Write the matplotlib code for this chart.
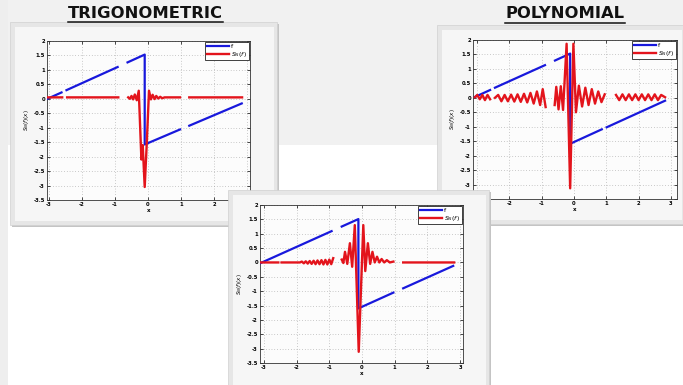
import numpy as np
import matplotlib
matplotlib.use("Agg")
import matplotlib.pyplot as plt
from matplotlib.patches import Rectangle
from matplotlib.lines import Line2D

nan = np.nan

# ---------------- data ----------------
yticks = [2, 1.5, 1, 0.5, 0, -0.5, -1, -1.5, -2, -2.5, -3, -3.5]
ytick_labels = ["2", "1.5", "1", "0.5", "0", "-0.5", "-1", "-1.5", "-2", "-2.5", "-3", "-3.5"]
xticks = [-3, -2, -1, 0, 1, 2, 3]
xtick_labels = ["-3", "-2", "-1", "0", "1", "2", "3"]

# Trigonometric panel
trig_f_x = [-3.05, -2.62, nan, -2.47, -0.92, nan, -0.62, -0.10, -0.10, 0.97, nan, 1.25, 2.84]
trig_f_y = [0.00, 0.22, nan, 0.30, 1.10, nan, 1.26, 1.53, -1.58, -1.06, nan, -0.93, -0.16]
trig_s_x = [-3.05, -2.60, nan, -2.45, -0.90, nan,
            -0.60, -0.55, -0.50, -0.45, -0.40, -0.34, -0.28, -0.20, -0.16, -0.10, -0.04,
            0.03, 0.09, 0.14, 0.20, 0.25, 0.31, 0.37, 0.43, 0.50, 0.97, nan, 1.25, 2.85]
trig_s_y = [0.05, 0.05, nan, 0.05, 0.05, nan,
            0.05, 0.00, 0.10, -0.02, 0.15, -0.05, 0.28, -2.10, -1.60, -3.05, -1.60,
            0.28, -0.02, 0.14, -0.01, 0.10, 0.01, 0.07, 0.02, 0.05, 0.05, nan, 0.05, 0.05]

# Polynomial panel
poly_f_x = [-3.07, -2.60, nan, -2.45, -0.90, nan, -0.59, -0.12, -0.12, 0.86, nan, 1.01, 2.82]
poly_f_y = [0.03, 0.27, nan, 0.35, 1.13, nan, 1.29, 1.53, -1.59, -1.09, nan, -1.02, -0.10]
poly_s_x = [-3.07, -3.00, -2.92, -2.84, -2.76, -2.68, -2.60, nan,
            -2.45, -2.35, -2.25, -2.15, -2.05, -1.95, -1.85, -1.75, -1.65, -1.55,
            -1.45, -1.35, -1.25, -1.15, -1.05, -0.97, -0.88, nan,
            -0.60, -0.55, -0.48, -0.41, -0.34, -0.23, -0.12, -0.02, 0.06, 0.15,
            0.25, 0.35, 0.45, 0.55, 0.65, 0.75, 0.85, 0.95, nan,
            1.30, 1.40, 1.50, 1.60, 1.70, 1.80, 1.90, 2.00, 2.10, 2.20, 2.30,
            2.40, 2.50, 2.60, 2.70, 2.82]
poly_s_y = [0.02, 0.10, -0.05, 0.10, -0.08, 0.10, -0.05, nan,
            0.00, 0.10, -0.12, 0.10, -0.12, 0.11, -0.13, 0.12, -0.14, 0.14,
            -0.16, 0.17, -0.20, 0.22, -0.25, 0.30, -0.32, nan,
            -0.25, 0.38, -0.40, 0.40, -0.42, 1.87, -3.13, 1.87, -0.50, 0.42,
            -0.30, 0.35, -0.25, 0.30, -0.20, 0.22, -0.15, 0.12, nan,
            0.10, -0.08, 0.12, -0.08, 0.12, -0.08, 0.12, -0.08, 0.12, -0.08, 0.12,
            -0.08, 0.12, -0.08, 0.10, 0.02]

# Third panel
mid_f_x = [-3.12, -0.93, nan, -0.62, -0.11, -0.11, 0.96, nan, 1.26, 2.79]
mid_f_y = [-0.03, 1.09, nan, 1.25, 1.51, -1.60, -1.05, nan, -0.90, -0.12]
mid_s_x = [-3.12, -2.56, nan,
           -2.46, -1.90, -1.84, -1.78, -1.72, -1.66, -1.60, -1.54, -1.48, -1.42, -1.36,
           -1.30, -1.24, -1.18, -1.12, -1.06, -1.00, -0.94, -0.88, nan,
           -0.62, -0.57, -0.52, -0.45, -0.37, -0.30, -0.22, -0.10, 0.04, 0.10, 0.18,
           0.25, 0.32, 0.39, 0.46, 0.53, 0.60, 0.68, 0.76, 0.85, 0.96, nan,
           1.26, 2.82]
mid_s_y = [0.00, 0.00, nan,
           0.00, 0.00, 0.03, -0.03, 0.04, -0.04, 0.05, -0.05, 0.06, -0.06, 0.07,
           -0.06, 0.08, -0.07, 0.09, -0.07, 0.10, -0.06, 0.15, nan,
           0.10, -0.02, 0.37, -0.05, 0.67, -0.15, 1.30, -3.11, 1.30, -0.30, 0.67,
           -0.05, 0.37, 0.00, 0.20, 0.00, 0.12, 0.00, 0.08, 0.00, 0.03, nan,
           0.00, 0.00]

titles = ["TRIGONOMETRIC", "POLYNOMIAL"]
legend_labels = ["f", "$S_N(f)$"]
ylabel_text = "$S_N(f)(x)$"
xlabel_text = "x"

# ---------------- layout helpers ----------------
W, H = 683, 385
fig = plt.figure(figsize=(W / 100, H / 100), dpi=100)
fig.patch.set_facecolor("white")


def rect_px(x0, y0, x1, y1):
    return [x0 / W, 1 - y1 / H, (x1 - x0) / W, (y1 - y0) / H]


def add_rect(x0, y0, x1, y1, fc, z, ec="none", lw=0):
    r = rect_px(x0, y0, x1, y1)
    p = Rectangle((r[0], r[1]), r[2], r[3], transform=fig.transFigure,
                  facecolor=fc, edgecolor=ec, linewidth=lw, zorder=z)
    fig.patches.append(p)
    return p


# background band
add_rect(0, 0, W, 145, "#f1f1f1", 0.1)
add_rect(0, 0, 8, H, "#eeeeee", 0.1)


def frame(x0, y0, x1, y1, z):
    add_rect(x0 + 2, y0 + 2, x1 + 2, y1 + 2, "#c4c4c4", z)
    add_rect(x0, y0, x1, y1, "#e6e6e6", z + 0.01, ec="#d0d0d0", lw=0.5)
    add_rect(x0 + 5, y0 + 5, x1 - 3, y1 - 4, "#f6f6f6", z + 0.02)


def panel(box, xlim, fx, fy, sx, sy, z, label_pad=2):
    ax = fig.add_axes(rect_px(*box))
    ax.set_zorder(z)
    ax.set_facecolor("#fcfcfc")
    ax.set_xlim(*xlim)
    ax.set_ylim(-3.5, 2)
    ax.set_yticks(yticks)
    ax.set_yticklabels(ytick_labels)
    ax.set_xticks(xticks)
    ax.set_xticklabels(xtick_labels)
    ax.tick_params(direction="in", length=2, width=0.5, labelsize=3.8,
                   top=True, right=True, pad=1.5, colors="black")
    for lab in ax.get_xticklabels() + ax.get_yticklabels():
        lab.set_fontweight("bold")
    ax.grid(True, linestyle=(0, (1, 3)), color="#9a9a9a", linewidth=0.5)
    for s in ax.spines.values():
        s.set_linewidth(0.6)
        s.set_color("#333333")
    l1, = ax.plot(fx, fy, color="#1818dc", lw=1.6, label=legend_labels[0], zorder=3)
    l2, = ax.plot(sx, sy, color="#e3141c", lw=1.7, label=legend_labels[1], zorder=3)
    ax.set_ylabel(ylabel_text, fontsize=4, labelpad=label_pad, fontweight="bold")
    ax.set_xlabel(xlabel_text, fontsize=4, labelpad=1, fontweight="bold")
    leg = ax.legend(handles=[l1, l2], loc="upper right", fontsize=4.5,
                    frameon=True, fancybox=False, framealpha=1,
                    edgecolor="#222222", borderpad=0.25, handlelength=3.6,
                    handletextpad=0.3, labelspacing=0.1, borderaxespad=0.2)
    leg.get_frame().set_linewidth(0.6)
    for t in leg.get_texts():
        t.set_color("black")
    return ax


# panel 1 (trigonometric)
frame(10, 22, 277, 225, 1)
panel((47, 41, 250, 200), (-3.06, 3.09), trig_f_x, trig_f_y, trig_s_x, trig_s_y, 2)

# panel 2 (polynomial)
frame(437, 25, 685, 224, 3)
panel((473, 40, 677, 199), (-3.13, 3.19), poly_f_x, poly_f_y, poly_s_x, poly_s_y, 4)

# panel 3
frame(228, 190, 489, 390, 5)
panel((260, 205, 463, 363), (-3.12, 3.09), mid_f_x, mid_f_y, mid_s_x, mid_s_y, 6)

# titles with underline
for t, cx, cy in [(titles[0], 145, 13), (titles[1], 565, 14)]:
    fig.text(cx / W, 1 - cy / H, t, ha="center", va="center",
             fontsize=11.8, fontweight="bold", family="DejaVu Sans",
             color="#111111", zorder=10)

fig.canvas.draw()
renderer = fig.canvas.get_renderer()
for t in fig.texts:
    bb = t.get_window_extent(renderer)
    y_line = bb.y0 - 1.5
    fig.lines.append(Line2D([bb.x0 / W, bb.x1 / W], [y_line / H, y_line / H],
                            transform=fig.transFigure, color="#111111",
                            linewidth=1.1, zorder=10))

fig.savefig("out.png", dpi=100, facecolor=fig.get_facecolor())
